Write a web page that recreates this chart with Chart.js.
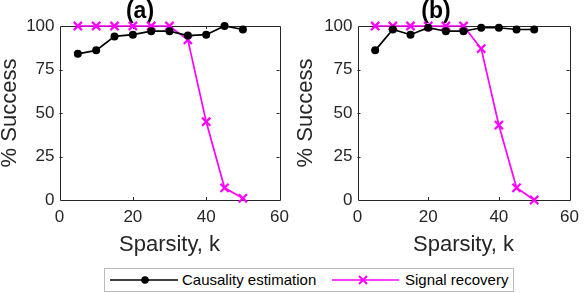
<!DOCTYPE html>
<html>
<head>
<meta charset="utf-8">
<script src="https://cdn.jsdelivr.net/npm/chart.js@4/dist/chart.umd.min.js"></script>
<style>
  body { margin: 0; background: #fff; }
  #wrap { position: relative; width: 586px; height: 293px; overflow: hidden; font-family: "Liberation Sans", Arial, sans-serif; }
  canvas { position: absolute; top: 0; }
  #legend { position: absolute; left: 104px; top: 268px; width: 408px; height: 22px; border: 1px solid #bbb; background: #fff; }
  #legend svg { position: absolute; top: 0; }
  #legend span { position: absolute; top: 2px; font-size: 15px; line-height: 18px; color: #000; white-space: nowrap; }
</style>
</head>
<body>
<div id="wrap">
  <canvas id="chartA" width="296" height="258" style="left:0px"></canvas>
  <canvas id="chartB" width="290" height="258" style="left:296px"></canvas>
  <div id="legend">
    <svg width="80" height="22" style="left:4px">
      <line x1="1" y1="11" x2="69" y2="11" stroke="#000" stroke-width="1.6"/>
      <circle cx="36" cy="11" r="3.8" fill="#000"/>
    </svg>
    <span style="left:77px">Causality estimation</span>
    <svg width="80" height="22" style="left:226px">
      <line x1="1" y1="11" x2="68" y2="11" stroke="#ff00ff" stroke-width="1.6"/>
      <path d="M28 7 L36 15 M36 7 L28 15" stroke="#ff00ff" stroke-width="2"/>
    </svg>
    <span style="left:300px">Signal recovery</span>
  </div>
</div>
<script>
var sparsity = [5, 10, 15, 20, 25, 30, 35, 40, 45, 50];

// panel (a)
var causalityA = [84, 86, 94, 95, 97, 97, 94.5, 95, 100, 98];
var recoveryA = [100, 100, 100, 100, 100, 100, 92, 45, 7, 1];

// panel (b)
var causalityB = [86, 98, 95, 99, 97, 97, 99, 99, 98, 98];
var recoveryB = [100, 100, 100, 100, 100, 100, 87, 43, 7, 0];

var xTicks = [0, 20, 40, 60];
var yTicks = [0, 25, 50, 75, 100];

var fontFamily = '"Liberation Sans", Arial, sans-serif';
var axisColor = '#262626';

function points(ys) {
  return sparsity.map(function(k, i) { return {x: k, y: ys[i]}; });
}

// box round the plot with matlab style inward ticks
var boxPlugin = {
  id: 'box',
  beforeDatasetsDraw: function(chart) {
    var ctx = chart.ctx, a = chart.chartArea;
    var xs = chart.scales.x, ys = chart.scales.y;
    ctx.save();
    ctx.strokeStyle = axisColor;
    ctx.lineWidth = 1;
    ctx.beginPath();
    ctx.rect(Math.round(a.left) + 0.5, Math.round(a.top) + 0.5, Math.round(a.right - a.left), Math.round(a.bottom - a.top));
    xTicks.slice(1, -1).forEach(function(v) {
      var px = Math.round(xs.getPixelForValue(v)) + 0.5;
      ctx.moveTo(px, a.bottom); ctx.lineTo(px, a.bottom - 3);
      ctx.moveTo(px, a.top); ctx.lineTo(px, a.top + 3);
    });
    yTicks.slice(1, -1).forEach(function(v) {
      var py = Math.round(ys.getPixelForValue(v)) + 0.5;
      ctx.moveTo(a.left, py); ctx.lineTo(a.left + 3, py);
      ctx.moveTo(a.right, py); ctx.lineTo(a.right - 3, py);
    });
    ctx.stroke();
    ctx.restore();
  }
};

function makeChart(id, title, causality, recovery, yWidth, padRight) {
  return new Chart(document.getElementById(id), {
    type: 'line',
    data: {
      datasets: [
        {
          label: 'Causality estimation',
          data: points(causality),
          borderColor: '#000',
          backgroundColor: '#000',
          borderWidth: 1.7,
          pointStyle: 'circle',
          pointRadius: 4,
          pointBorderWidth: 0,
          clip: false
        },
        {
          label: 'Signal recovery',
          data: points(recovery),
          borderColor: '#ff00ff',
          backgroundColor: '#ff00ff',
          borderWidth: 1.7,
          pointStyle: 'crossRot',
          pointRadius: 5.8,
          pointBorderWidth: 2.2,
          clip: false
        }
      ]
    },
    options: {
      responsive: false,
      animation: false,
      devicePixelRatio: 1,
      layout: {padding: {left: 0, right: padRight, top: 0, bottom: 0}},
      plugins: {
        legend: {display: false},
        tooltip: {enabled: false},
        title: {
          display: true,
          text: title,
          color: '#000',
          font: {family: fontFamily, size: 23, weight: 'bold', lineHeight: 1.0},
          padding: {top: 0, bottom: 3}
        }
      },
      scales: {
        x: {
          type: 'linear',
          min: 0,
          max: 60,
          afterBuildTicks: function(s) { s.ticks = xTicks.map(function(v) { return {value: v}; }); },
          afterFit: function(s) { s.height = 58; },
          grid: {display: false, drawTicks: false},
          border: {display: false},
          ticks: {color: axisColor, padding: 7, maxRotation: 0, font: {family: fontFamily, size: 17}},
          title: {display: true, text: 'Sparsity, k', color: axisColor, padding: 0, font: {family: fontFamily, size: 22, lineHeight: 1.2}}
        },
        y: {
          min: 0,
          max: 100,
          afterBuildTicks: function(s) { s.ticks = yTicks.map(function(v) { return {value: v}; }); },
          afterFit: function(s) { s.width = yWidth; },
          grid: {display: false, drawTicks: false},
          border: {display: false},
          ticks: {color: axisColor, padding: 5, font: {family: fontFamily, size: 17}},
          title: {display: true, text: '% Success', color: axisColor, padding: 0, font: {family: fontFamily, size: 22, lineHeight: 0.9}}
        }
      }
    },
    plugins: [boxPlugin]
  });
}

makeChart('chartA', '(a)', causalityA, recoveryA, 59.5, 16);
makeChart('chartB', '(b)', causalityB, recoveryB, 61.5, 10);
</script>
</body>
</html>
